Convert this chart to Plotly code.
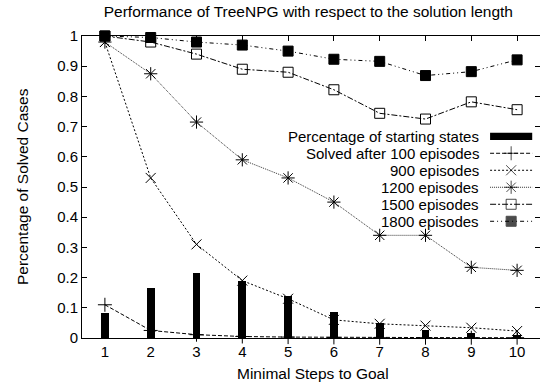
import plotly.graph_objects as go

steps = list(range(1, 11))
tick_labels_y = ["0", "0.1", "0.2", "0.3", "0.4", "0.5", "0.6", "0.7", "0.8", "0.9", "1"]
tick_vals_y = [0, 0.1, 0.2, 0.3, 0.4, 0.5, 0.6, 0.7, 0.8, 0.9, 1.0]

start_pct = [0.082, 0.167, 0.214, 0.19, 0.138, 0.085, 0.05, 0.026, 0.017, 0.01]
ep100 = [0.11, 0.025, 0.011, 0.005, 0.003, 0.002, 0.001, 0.001, 0.001, 0.001]
ep900 = [0.98, 0.53, 0.31, 0.19, 0.13, 0.06, 0.047, 0.041, 0.034, 0.023]
ep1200 = [0.98, 0.875, 0.715, 0.59, 0.53, 0.45, 0.34, 0.34, 0.234, 0.224]
ep1500 = [1.0, 0.98, 0.94, 0.89, 0.88, 0.822, 0.744, 0.725, 0.782, 0.756]
ep1800 = [1.0, 0.995, 0.98, 0.97, 0.95, 0.923, 0.916, 0.869, 0.882, 0.921]

series = [
    ("Solved after 100 episodes", ep100, "4px,2px", "cross-thin-open", 10, "#000"),
    ("900 episodes", ep900, "2px,2px", "x-thin-open", 10, "#000"),
    ("1200 episodes", ep1200, "1px,1px", "asterisk-open", 11, "#333"),
    ("1500 episodes", ep1500, "6px,2px,2px,2px", "square-open", 10, "#000"),
    ("1800 episodes", ep1800, "4px,3px,1px,3px,1px,3px", "square", 10, "#000"),
]

FONT = "Liberation Sans, Arial, sans-serif"

fig = go.Figure()
fig.add_trace(go.Bar(x=steps, y=start_pct, width=0.17, marker=dict(color="black", line=dict(width=0)),
                     name="Percentage of starting states", showlegend=False))
for name, vals, dash, sym, size, col in series:
    fig.add_trace(go.Scatter(
        x=steps, y=vals, mode="lines+markers", name=name, showlegend=False,
        line=dict(color=col, width=1, dash=dash),
        marker=dict(symbol=sym, size=size, color="black",
                    line=dict(color="black", width=1)),
    ))

# manual gnuplot-style legend (text right-aligned, sample to the right)
leg_text_x = 0.869
s0, s1 = 0.891, 0.983
row_y0, row_dy = 0.668, 0.0563
legend_rows = [("Percentage of starting states", None, None, None)] + [(s[0], s[2], s[3], s[5]) for s in series]
leg_mx, leg_my, leg_sym = [], [], []
for i, (name, dash, sym, col) in enumerate(legend_rows):
    yy = row_y0 - i * row_dy
    fig.add_annotation(x=leg_text_x, y=yy, xref="paper", yref="paper", text=name,
                       showarrow=False, xanchor="right", yanchor="middle", borderpad=0,
                       font=dict(family=FONT, size=15, color="black"))
    if dash is None:
        fig.add_shape(type="rect", xref="paper", yref="paper", x0=s0, x1=s1,
                      y0=yy - 0.012, y1=yy + 0.012, fillcolor="black", line=dict(width=0))
    else:
        fig.add_shape(type="line", xref="paper", yref="paper", x0=s0, x1=s1, y0=yy, y1=yy,
                      layer="below", line=dict(color=col, width=1, dash=dash))
        leg_mx.append((s0 + s1) / 2)
        leg_my.append(yy)
        leg_sym.append(sym)

fig.add_trace(go.Scatter(x=leg_mx, y=leg_my, xaxis="x2", yaxis="y2", mode="markers", showlegend=False,
                         hoverinfo="skip",
                         marker=dict(symbol=leg_sym, size=[10, 10, 11, 10, 10], color="black",
                                     line=dict(color="black", width=1))))

# axis titles placed like gnuplot
fig.add_annotation(x=0.504, y=-0.116, xref="paper", yref="paper", text="Minimal Steps to Goal",
                   showarrow=False, xanchor="center", yanchor="middle",
                   font=dict(family=FONT, size=15.5, color="black"))
fig.add_annotation(x=-0.131, y=0.5, xref="paper", yref="paper", text="Percentage of Solved Cases",
                   showarrow=False, xanchor="center", yanchor="middle", textangle=-90,
                   font=dict(family=FONT, size=15.5, color="black"))

fig.update_layout(
    width=540, height=387,
    margin=dict(l=82, r=0, t=36, b=49),
    paper_bgcolor="white", plot_bgcolor="white",
    font=dict(family=FONT, size=15, color="black"),
    showlegend=False,
    bargap=0,
    title=dict(text="Performance of TreeNPG with respect to the solution length",
               x=0.571, xref="container", xanchor="center",
               y=0.969, yref="container", yanchor="middle",
               font=dict(family=FONT, size=15.5, color="black")),
    xaxis=dict(range=[0.5, 10.5], tickvals=steps, ticktext=[str(s) for s in steps],
               ticks="inside", ticklen=5, tickcolor="black", showline=True, linecolor="black",
               linewidth=1, mirror="allticks", showgrid=False, zeroline=False,
               tickfont=dict(family=FONT, size=15)),
    yaxis=dict(range=[0, 1], tickvals=tick_vals_y, ticktext=tick_labels_y,
               ticks="inside", ticklen=5, tickcolor="black", showline=True, linecolor="black",
               linewidth=1, mirror="allticks", showgrid=False, zeroline=False,
               tickfont=dict(family=FONT, size=15)),
    xaxis2=dict(range=[0, 1], overlaying="x", visible=False, domain=[0, 1]),
    yaxis2=dict(range=[0, 1], overlaying="y", visible=False, anchor="x2"),
)
fig.update_traces(cliponaxis=False, selector=dict(type="scatter"))

fig.write_html("out.html", config={"displayModeBar": False},
               post_script="document.body.style.margin='0';document.body.style.overflow='hidden';")
